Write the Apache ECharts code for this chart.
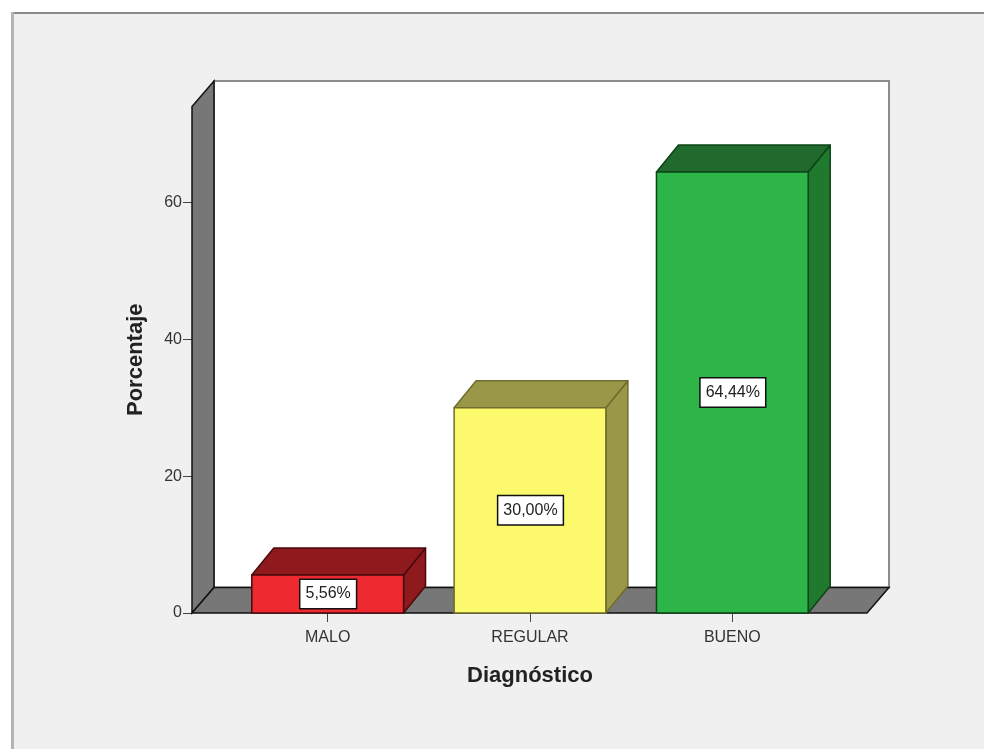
<!DOCTYPE html>
<html><head><meta charset="utf-8">
<style>html,body{margin:0;padding:0;background:#fff}#c{width:984px;height:749px}</style>
<script src="https://cdn.jsdelivr.net/npm/echarts@6/dist/echarts.min.js"></script>
</head><body><div id="c"></div>
<script>
const categories = ['MALO','REGULAR','BUENO'];
const values = [5.56, 30.00, 64.44];
const valueLabels = ['5,56%','30,00%','64,44%'];
const yTicks = [0,20,40,60];
const faceColors = ['#ee2a30','#fdf96c','#2db548'];
const topColors = ['#8e1a1e','#9a9848','#1f6a2c'];
const sideColors = ['#8e1a1e','#9a9848','#1f7a2e'];
const edgeColors = ['#4a0a0c','#6f6d2c','#0c4418'];

const DX = 22, BAR_DY = -27, WALL_DY = -25.5;
const chart = echarts.init(document.getElementById('c'));

function renderWalls(params, api) {
  const cs = params.coordSys;
  const x0 = cs.x - 34.5, x1 = cs.x + cs.width + 33.5;
  const yb = cs.y + cs.height, yt = cs.y;
  const stroke = {stroke:'#111', lineWidth:1.5};
  return {type:'group', silent:true, children:[
    {type:'polygon', shape:{points:[[x0+DX,yt+WALL_DY],[x1+DX,yt+WALL_DY],[x1+DX,yb+WALL_DY],[x0+DX,yb+WALL_DY]]},
      style:{fill:'#fff', stroke:'#8c8c8c', lineWidth:2}},
    {type:'polygon', shape:{points:[[x0,yb],[x0+DX,yb+WALL_DY],[x0+DX,yt+WALL_DY],[x0,yt]]},
      style:Object.assign({fill:'#777'},stroke)},
    {type:'polygon', shape:{points:[[x0,yb],[x0+DX,yb+WALL_DY],[x1+DX,yb+WALL_DY],[x1,yb]]},
      style:Object.assign({fill:'#777'},stroke)}
  ]};
}

function renderBar(params, api) {
  const i = params.dataIndex;
  const base = api.coord([api.value(0), 0]);
  const top = api.coord([api.value(0), api.value(1)]);
  const w = api.size([1,0])[0] * 0.75;
  const l = base[0] - w/2, r = base[0] + w/2, t = top[1], b = base[1];
  const st = {stroke:edgeColors[i], lineWidth:1.5, lineJoin:'round'};
  return {type:'group', children:[
    {type:'polygon', shape:{points:[[r,b],[r+DX,b+BAR_DY],[r+DX,t+BAR_DY],[r,t]]},
      style:Object.assign({fill:sideColors[i]},st)},
    {type:'polygon', shape:{points:[[l,t],[l+DX,t+BAR_DY],[r+DX,t+BAR_DY],[r,t]]},
      style:Object.assign({fill:topColors[i]},st)},
    {type:'rect', shape:{x:l,y:t,width:r-l,height:b-t},
      style:Object.assign({fill:faceColors[i]},st)},
    {type:'text', x:base[0]+0.5, y:(t+b)/2,
      style:{text:valueLabels[i], x:0, y:0, align:'center', verticalAlign:'middle',
        font:'16px "Liberation Sans", Arial, sans-serif', fill:'#222',
        backgroundColor:'#fff', borderColor:'#111', borderWidth:1.5,
        padding:[6,5,6,5]}}
  ]};
}

chart.setOption({
  animation:false,
  backgroundColor:'#f0f0f0',
  graphic:[
    {type:'rect', z:-10, shape:{x:0,y:0,width:984,height:13}, style:{fill:'#fff'}},
    {type:'rect', z:-10, shape:{x:0,y:0,width:12,height:749}, style:{fill:'#fff'}},
    {type:'rect', z:-9, shape:{x:11,y:12,width:973,height:2}, style:{fill:'#8a8a8a'}},
    {type:'rect', z:-9, shape:{x:11,y:12,width:3,height:737}, style:{fill:'#b4b4b4'}}
  ],
  grid:{left:226.5, width:607, top:106.5, height:506.5, containLabel:false},
  xAxis:{
    type:'category', data:categories, boundaryGap:true,
    name:'Diagnóstico', nameLocation:'middle', nameGap:52,
    nameTextStyle:{fontFamily:'Liberation Sans', fontWeight:'bold', fontSize:22, color:'#222'},
    axisLine:{show:false},
    axisTick:{show:true, alignWithLabel:true, length:9, lineStyle:{color:'#444'}},
    axisLabel:{fontFamily:'Liberation Sans', fontSize:16, color:'#333', margin:17},
    splitLine:{show:false}
  },
  yAxis:{
    type:'value', min:0, max:74, offset:34.5,
    name:'Porcentaje', nameLocation:'middle', nameGap:45, nameRotate:90,
    nameTextStyle:{fontFamily:'Liberation Sans', fontWeight:'bold', fontSize:22, color:'#222'},
    axisLine:{show:false},
    axisTick:{show:true, length:9, customValues:yTicks, lineStyle:{color:'#444'}},
    axisLabel:{fontFamily:'Liberation Sans', fontSize:16, color:'#333', margin:10, customValues:yTicks},
    splitLine:{show:false}
  },
  series:[
    {type:'custom', z:1, clip:false, renderItem:renderWalls, data:[[0,0]], silent:true},
    {type:'custom', z:2, clip:false, renderItem:renderBar,
      encode:{x:0,y:1}, data:values.map((v,i)=>[i,v])}
  ]
});
</script></body></html>
